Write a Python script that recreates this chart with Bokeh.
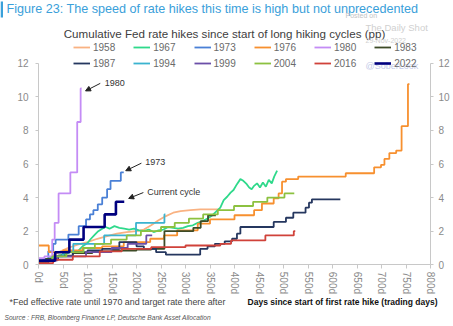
from bokeh.plotting import figure
from bokeh.models import (Range1d, LinearAxis, FixedTicker, Label, Legend, LegendItem,
                          Arrow, NormalHead, PrintfTickFormatter, BoxAnnotation)
from bokeh.embed import file_html
from bokeh.resources import INLINE

# ---------------- data (days since first hike, cumulative hikes in pp) ----------------
series_names = ["1958", "1967", "1973", "1976", "1980", "1983",
                "1987", "1994", "1999", "2004", "2016", "2022"]
colors = ["#f9b282", "#2fd98b", "#4a80d6", "#f7902f", "#c48cf5", "#3d4b27",
          "#25375f", "#3bb3cf", "#6b4fa8", "#8cc140", "#d0423a", "#00007f"]

d1958 = [0, 15, 30, 45, 60, 80, 100, 120, 140, 160, 180, 200, 215, 230, 245, 260, 275, 290, 310, 330, 350, 371]
v1958 = [0.1, 0.3, 0.55, 0.8, 1.0, 1.2, 1.35, 1.55, 1.7, 1.85, 1.95, 2.0, 2.1, 2.35, 2.65, 2.9, 3.1, 3.2, 3.25, 3.3, 3.3, 3.3]

d1967 = [0, 10, 20, 35, 50, 65, 80, 90, 100, 107, 115, 122, 130, 137, 145, 155, 165, 175, 185, 195, 205, 215, 225,
         235, 245, 255, 265, 275, 285, 295, 305, 315, 325, 335, 345, 355, 362, 371, 378, 385, 392, 398, 405, 412, 418,
         425, 430, 435, 440, 446, 452, 458, 464, 470, 476, 481, 487]
v1967 = [0.05, 0.25, 0.35, 0.5, 0.6, 0.75, 0.8, 1.1, 1.3, 1.55, 1.8, 2.0, 2.15, 2.25, 2.15, 2.3, 2.2, 2.15, 2.1, 2.15,
         2.05, 2.0, 2.1, 1.95, 2.05, 2.1, 2.25, 2.2, 2.15, 2.2, 2.3, 2.35, 2.5, 2.6, 2.75, 2.95, 3.15, 3.4, 3.85, 4.05,
         4.3, 4.45, 4.8, 5.1, 5.0, 4.8, 4.6, 4.5, 4.7, 4.85, 4.6, 4.9, 4.65, 5.05, 4.85, 5.25, 5.6]

d1973 = [0, 10, 20, 30, 35, 61, 82, 97, 105, 112, 121, 130, 140, 147, 168, 174]
v1973 = [0.1, 0.35, 0.8, 1.25, 1.5, 1.8, 2.3, 2.7, 3.0, 3.25, 3.6, 4.0, 4.5, 5.0, 5.5, 5.5]

d1976 = [0, 21, 50, 90, 130, 174, 228, 256, 283, 325, 350, 400, 440, 456, 480, 490, 497, 505, 530, 627, 685, 699,
         706, 716, 730, 741, 754, 757]
v1976 = [1.15, 0.75, 0.85, 1.0, 1.1, 1.35, 1.55, 1.75, 2.05, 2.45, 2.7, 2.95, 3.25, 3.65, 3.95, 4.25, 4.95, 5.1,
         5.25, 5.45, 5.8, 5.95, 6.3, 6.65, 6.8, 8.25, 10.75, 10.75]

d1980 = [0, 12, 28, 33, 41, 65, 79, 86, 88]
v1980 = [0.4, 0.5, 1.5, 2.5, 4.25, 5.5, 8.5, 10.5, 10.5]

d1983 = [0, 15, 40, 70, 110, 150, 200, 230, 257, 316, 331, 346, 362]
v1983 = [0.1, 0.35, 0.55, 0.7, 0.8, 0.85, 0.9, 0.95, 2.0, 2.2, 2.6, 2.95, 2.95]

d1987 = [0, 20, 40, 70, 100, 130, 165, 200, 215, 240, 260, 330, 345, 360, 380, 395, 405, 412, 480, 505, 520, 545,
         552, 558, 616]
v1987 = [0.1, 0.3, 0.5, 0.75, 0.85, 0.95, 1.35, 1.1, 0.95, 0.75, 0.6, 0.95, 1.1, 1.25, 1.4, 1.55, 1.85, 2.25, 2.55,
         2.8, 3.1, 3.4, 3.7, 3.9, 3.9]

d1994 = [0, 32, 50, 71, 134, 199, 257, 259]
v1994 = [0.25, 0.5, 0.75, 1.25, 1.75, 2.5, 3.0, 3.0]

d1999 = [0, 38, 97, 149, 182, 220, 232]
v1999 = [0.25, 0.5, 0.75, 1.0, 1.25, 1.75, 1.75]

d2004 = [0, 28, 57, 92, 115, 148, 180, 209, 250, 278, 307, 336, 366, 399, 438, 467, 502, 522]
v2004 = [0.25, 0.5, 0.75, 1.0, 1.25, 1.5, 1.75, 2.0, 2.25, 2.5, 2.75, 3.0, 3.25, 3.5, 3.75, 4.0, 4.25, 4.25]

d2016 = [0, 30, 70, 125, 170, 230, 300, 371, 393, 463, 521, 524]
v2016 = [0.1, 0.3, 0.5, 0.8, 0.95, 1.05, 1.15, 1.25, 1.45, 1.75, 2.0, 2.0]

d2022 = [0, 34, 63, 92, 135, 158, 175]
v2022 = [0.25, 0.75, 1.5, 2.25, 3.0, 3.75, 3.75]

x_ticks = [0, 50, 100, 150, 200, 250, 300, 350, 400, 450, 500, 550, 600, 650, 700, 750, 800]
y_ticks = [0, 2, 4, 6, 8, 10, 12]

days = [d1958, d1967, d1973, d1976, d1980, d1983, d1987, d1994, d1999, d2004, d2016, d2022]
vals = [v1958, v1967, v1973, v1976, v1980, v1983, v1987, v1994, v1999, v2004, v2016, v2022]
smooth = {"1958", "1967"}  # effective-rate series drawn as lines

FONT = "Liberation Sans"
W, H = 453, 326
# plot box in canvas pixels: x 0d..800d -> 38..430, y 0..12 -> 264.3..62.7
PX_PER_DAY = 392 / 800
PX_PER_PP = 201.6 / 12

# ---------------- figure (frame = whole canvas, axes at fixed locations) ----------------
p = figure(width=W, height=H, output_backend="svg", toolbar_location=None,
           x_axis_location=None, y_axis_location=None,
           x_range=Range1d(-38 / PX_PER_DAY, (W - 38) / PX_PER_DAY),
           y_range=Range1d(-(H - 264.3) / PX_PER_PP, 264.3 / PX_PER_PP))
p.min_border = 0
p.min_border_left = 0
p.min_border_right = 0
p.min_border_top = 0
p.min_border_bottom = 0
p.outline_line_color = None
p.xgrid.visible = False
p.ygrid.visible = False
p.background_fill_color = "white"
p.border_fill_color = "white"


def style_axis(ax):
    ax.axis_line_color = "#c8c8c8"
    ax.major_tick_line_color = "#c8c8c8"
    ax.minor_tick_line_color = None
    ax.major_label_text_color = "#8a8a8a"
    ax.major_label_text_font = FONT
    ax.major_label_text_font_size = "10px"
    ax.major_tick_in = 0


xax = LinearAxis(ticker=FixedTicker(ticks=x_ticks), formatter=PrintfTickFormatter(format="%dd"),
                 fixed_location=0, bounds=(0, 800))
style_axis(xax)
xax.major_label_orientation = "vertical"
xax.major_tick_out = 4
xax.major_label_standoff = 3
p.add_layout(xax, "below")

lax = LinearAxis(ticker=FixedTicker(ticks=y_ticks), fixed_location=0, bounds=(0, 12))
style_axis(lax)
lax.major_tick_out = 3
lax.major_label_standoff = 7
p.add_layout(lax, "left")

rax = LinearAxis(ticker=FixedTicker(ticks=y_ticks), fixed_location=800, bounds=(0, 12))
style_axis(rax)
rax.major_tick_out = 3
rax.major_label_standoff = 5
p.add_layout(rax, "right")

renderers = []
for name, c, d, v in zip(series_names, colors, days, vals):
    lw = 2.6 if name == "2022" else 1.8
    if name in smooth:
        r = p.line(d, v, line_color=c, line_width=lw)
    else:
        r = p.step(d, v, mode="after", line_color=c, line_width=lw)
    renderers.append(r)


# ---------------- legends (two rows) ----------------
def make_legend(idx, cy):
    return Legend(items=[LegendItem(label=series_names[i], renderers=[renderers[i]]) for i in idx],
                  orientation="horizontal", location=(73, H - cy - 6),
                  glyph_width=17, glyph_height=12, label_height=12, label_standoff=3, spacing=18,
                  padding=0, margin=0, border_line_color=None, background_fill_alpha=0,
                  label_text_font=FONT, label_text_font_size="10px", label_text_color="#6a6a6a")


p.add_layout(make_legend([0, 1, 2, 3, 4, 5], 47))
p.add_layout(make_legend([6, 7, 8, 9, 10, 11], 63))


# ---------------- texts (canvas pixel positions) ----------------
def add_text(text, cx, cy, size, color, align="left", style="normal"):
    p.add_layout(Label(x=cx, y=H - cy, x_units="screen", y_units="screen", text=text,
                       text_font=FONT, text_font_size=size, text_color=color, text_align=align,
                       text_baseline="middle", text_font_style=style))


p.add_layout(BoxAnnotation(left=0, right=2.5, top=H - 1, bottom=H - 17,
                           left_units="screen", right_units="screen", top_units="screen",
                           bottom_units="screen", fill_color="#3aa0da", fill_alpha=1, line_color=None))
add_text("Figure 23: The speed of rate hikes this time is high but not unprecedented", 6, 8.5,
         "12.6px", "#3aa0da")
add_text("Cumulative Fed rate hikes since start of long hiking cycles (pp)", 224, 33, "11.6px", "#404040",
         align="center")
add_text("Posted on", 345, 15, "7px", "#c4c4c4")
add_text("The Daily Shot", 365, 27, "9.5px", "#d0d0d0")
add_text("29-Nov-2022", 365, 40, "7px", "#d0d0d0")
add_text("@SoberLook", 365, 65, "9px", "#c4cbe8")

add_text("*Fed effective rate until 1970 and target rate there after", 9, 301, "8.9px", "#444444")
add_text("Days since start of first rate hike (trading days)", 437, 301, "8.5px", "#111111",
         align="right", style="bold")
add_text("Source : FRB, Bloomberg Finance LP, Deutsche Bank Asset Allocation", 4, 317, "6.6px", "#555555",
         style="italic")

# ---------------- annotations (data coords) ----------------
ann = [("1980", 135, 10.8, 126, 10.8, 96, 10.35),
       ("1973", 218, 6.1, 210, 6.05, 178, 5.6),
       ("Current cycle", 222, 4.35, 214, 4.3, 184, 3.95)]
for t, tx, ty, x0, y0, x1, y1 in ann:
    p.add_layout(Label(x=tx, y=ty, text=t, text_font=FONT, text_font_size="9px", text_color="#333333",
                       text_baseline="middle"))
    p.add_layout(Arrow(x_start=x0, y_start=y0, x_end=x1, y_end=y1, line_color="#222222", line_width=1,
                       end=NormalHead(size=5, fill_color="#222222", line_color="#222222")))

open("out.html", "w").write(file_html(p, INLINE))
